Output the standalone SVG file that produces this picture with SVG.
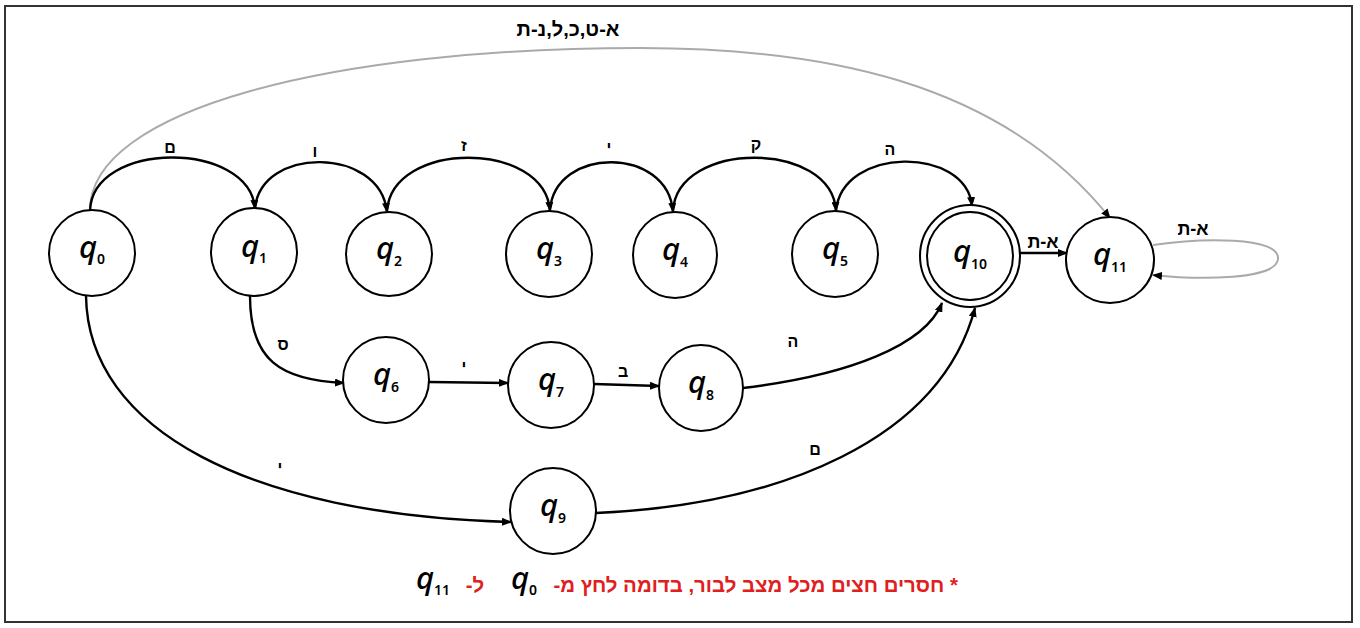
<svg xmlns="http://www.w3.org/2000/svg" width="1360" height="628" viewBox="0 0 1360 628">
<style>
.node ellipse{fill:#fff;stroke:#000;stroke-width:2}
.q{font-family:"Noto Sans","DejaVu Sans",sans-serif;font-size:31px;font-style:italic;font-weight:500;fill:#000}
.sub{font-size:14px;font-style:normal;font-weight:600}
.e{fill:none;stroke:#000;stroke-width:2.4;marker-end:url(#arr)}
.g{fill:none;stroke:#aaa;stroke-width:2;marker-end:url(#arr)}
.lbl{font-family:"Liberation Sans","DejaVu Sans",sans-serif;font-size:16px;font-weight:bold;fill:#000;text-anchor:middle}
.big{font-size:18px}
.top{font-size:20px}
.red{font-family:"Liberation Sans","DejaVu Sans",sans-serif;font-size:20.4px;font-weight:bold;fill:#e02020}
</style>
<defs>
<marker id="arr" markerUnits="userSpaceOnUse" markerWidth="10" markerHeight="8" refX="9" refY="4" orient="auto">
<path d="M0,0 L10,4 L0,8 z" fill="#000"/>
</marker>
</defs>
<rect x="5" y="6" width="1347" height="616" fill="#fff" stroke="#333" stroke-width="2"/>

<g id="connectors">
<path class="g" d="M 90 210 C 90 110, 330 48, 640 48 C 820 48, 1000 80, 1110 218"/>
<path class="g" d="M 1153 245 C 1200 238, 1280 236, 1278 259 C 1276 280, 1200 280, 1153 275"/>
<path class="e" d="M 90 211 C 92 140, 250 140, 255 209"/>
<path class="e" d="M 255 209 C 260 146, 380 146, 387 212"/>
<path class="e" d="M 387 211 C 392 140, 545 140, 550 211"/>
<path class="e" d="M 550 210 C 555 146, 668 146, 673 212"/>
<path class="e" d="M 673 211 C 677 140, 832 140, 836 211"/>
<path class="e" d="M 836 211 C 842 146, 966 146, 972 206"/>
<path class="e" d="M 1020 253 L 1067 253"/>
<path class="e" d="M 86 296 C 88 430, 250 515, 511 522"/>
<path class="e" d="M 250 296 C 250 360, 280 380, 344 383"/>
<path class="e" d="M 429 382 L 508 383"/>
<path class="e" d="M 594 384 L 659 386"/>
<path class="e" d="M 743 388 C 850 375, 925 345, 942 303"/>
<path class="e" d="M 596 513 C 780 505, 940 440, 975 308"/>
<text class="lbl top" x="568" y="36" direction="rtl" unicode-bidi="embed">א-ט,כ,ל,נ-ת</text>
<text class="lbl big" x="1193" y="235" direction="rtl" unicode-bidi="embed">א-ת</text>
<text class="lbl big" x="1043" y="248" direction="rtl" unicode-bidi="embed">א-ת</text>
<text class="lbl" x="170" y="153">ם</text>
<text class="lbl" x="315" y="157">ו</text>
<text class="lbl" x="464" y="151">ז</text>
<text class="lbl" x="609" y="153">י</text>
<text class="lbl" x="756" y="150">ק</text>
<text class="lbl" x="890" y="155">ה</text>
<text class="lbl" x="283" y="350">ס</text>
<text class="lbl" x="464" y="372">י</text>
<text class="lbl" x="623" y="377">ב</text>
<text class="lbl" x="793" y="347">ה</text>
<text class="lbl" x="280" y="473">י</text>
<text class="lbl" x="815" y="455">ם</text>
</g>

<g id="q0" class="node"><ellipse cx="92" cy="253" rx="43" ry="43"/><text class="q" x="92" y="258" text-anchor="middle">q<tspan class="sub" dy="6">0</tspan></text></g>
<g id="q1" class="node"><ellipse cx="254" cy="252" rx="43" ry="44"/><text class="q" x="254" y="257" text-anchor="middle">q<tspan class="sub" dy="6">1</tspan></text></g>
<g id="q2" class="node"><ellipse cx="389" cy="254" rx="43" ry="42"/><text class="q" x="389" y="259" text-anchor="middle">q<tspan class="sub" dy="7">2</tspan></text></g>
<g id="q3" class="node"><ellipse cx="549" cy="254" rx="43" ry="43"/><text class="q" x="549" y="259" text-anchor="middle">q<tspan class="sub" dy="7">3</tspan></text></g>
<g id="q4" class="node"><ellipse cx="675" cy="255" rx="42" ry="43"/><text class="q" x="675" y="260" text-anchor="middle">q<tspan class="sub" dy="7">4</tspan></text></g>
<g id="q5" class="node"><ellipse cx="835" cy="254" rx="43" ry="43"/><text class="q" x="835" y="259" text-anchor="middle">q<tspan class="sub" dy="7">5</tspan></text></g>
<g id="q10" class="node"><ellipse cx="970" cy="256" rx="50" ry="51"/><ellipse cx="970" cy="256" rx="43" ry="44"/><text class="q" x="970" y="262" text-anchor="middle">q<tspan class="sub" dy="7">10</tspan></text></g>
<g id="q11" class="node"><ellipse cx="1110" cy="260" rx="44" ry="43"/><text class="q" x="1110" y="265" text-anchor="middle">q<tspan class="sub" dy="7">11</tspan></text></g>
<g id="q6" class="node"><ellipse cx="386" cy="380" rx="43" ry="43"/><text class="q" x="386" y="385" text-anchor="middle">q<tspan class="sub" dy="7">6</tspan></text></g>
<g id="q7" class="node"><ellipse cx="551" cy="385" rx="43" ry="43"/><text class="q" x="551" y="390" text-anchor="middle">q<tspan class="sub" dy="7">7</tspan></text></g>
<g id="q8" class="node"><ellipse cx="701" cy="388" rx="42" ry="43"/><text class="q" x="701" y="393" text-anchor="middle">q<tspan class="sub" dy="7">8</tspan></text></g>
<g id="q9" class="node"><ellipse cx="553" cy="511" rx="43" ry="43"/><text class="q" x="553" y="516" text-anchor="middle">q<tspan class="sub" dy="7">9</tspan></text></g>

<g id="note">
<text class="red" x="958" y="592" direction="rtl" unicode-bidi="embed" text-anchor="start">* חסרים חצים מכל מצב לבור, בדומה לחץ מ-</text>
<text class="q" x="524" y="589" text-anchor="middle">q<tspan class="sub" dy="6">0</tspan></text>
<text class="red" x="475" y="592" direction="rtl" unicode-bidi="embed" text-anchor="middle">ל-</text>
<text class="q" x="433" y="589" text-anchor="middle">q<tspan class="sub" dy="6">11</tspan></text>
</g>
</svg>
